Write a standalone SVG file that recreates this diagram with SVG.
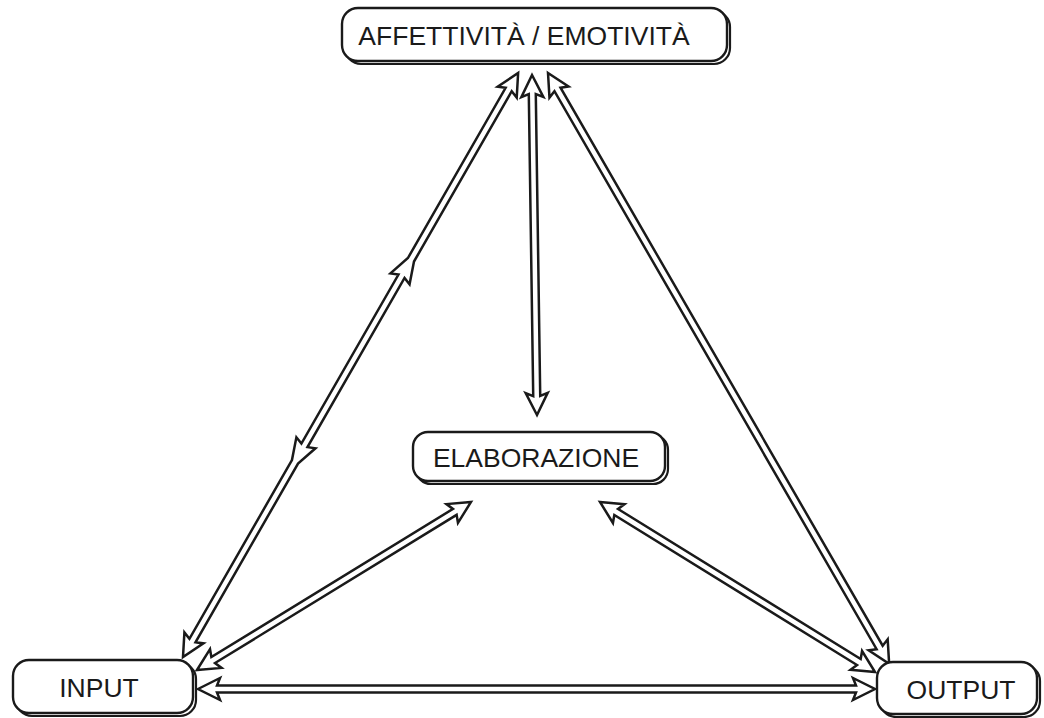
<svg xmlns="http://www.w3.org/2000/svg" width="1044" height="718" viewBox="0 0 1044 718">
<style>
.bg{fill:#ffffff}
.shadow{fill:#ffffff;stroke:#1a1a1a;stroke-width:2.2}
.box{fill:#ffffff;stroke:#1a1a1a;stroke-width:2.4}
.lbl{font-family:"Liberation Sans",Arial,sans-serif;font-size:26.5px;fill:#1a1a1a;text-anchor:middle}
.arrow{fill:#ffffff;stroke:#1a1a1a;stroke-width:2.5;stroke-linejoin:miter}
</style>
<rect class="bg" x="0" y="0" width="1044" height="718"/>
<g id="connectors">
  <g transform="translate(183,657) rotate(-60.15)">
    <polygon class="arrow" points="0,0 22,-11 19,-3.5 225,-3.5 247,-11 244,-3.5 439,-3.5 436,-11 458,-3.5 654.3,-3.5 651.3,-11 673.3,0 651.3,11 654.3,3.5 458,3.5 436,11 439,3.5 244,3.5 247,11 225,3.5 19,3.5 22,11"/>
  </g>
  <g transform="translate(537,415) rotate(-90.84)">
    <polygon class="arrow" points="0,0 22,-11 19,-3.5 321,-3.5 318,-11 340,0 318,11 321,3.5 19,3.5 22,11"/>
  </g>
  <g transform="translate(548,73) rotate(60.0)">
    <polygon class="arrow" points="0,0 22,-11 19,-3.5 663.3,-3.5 660.3,-11 682.3,0 660.3,11 663.3,3.5 19,3.5 22,11"/>
  </g>
  <g transform="translate(600,502) rotate(31.72)">
    <polygon class="arrow" points="0,0 22,-11 19,-3.5 304.3,-3.5 301.3,-11 323.3,0 301.3,11 304.3,3.5 19,3.5 22,11"/>
  </g>
  <g transform="translate(197,670) rotate(-31.52)">
    <polygon class="arrow" points="0,0 22,-11 19,-3.5 302.4,-3.5 299.4,-11 321.4,0 299.4,11 302.4,3.5 19,3.5 22,11"/>
  </g>
  <g transform="translate(198,689)">
    <polygon class="arrow" points="0,0 22,-11 19,-3.5 658,-3.5 655,-11 677,0 655,11 658,3.5 19,3.5 22,11"/>
  </g>
</g>
<g id="affettivita">
  <rect class="shadow" x="345" y="11" width="385" height="53" rx="16"/>
  <rect class="box" x="342" y="8" width="385" height="53" rx="16"/>
  <text class="lbl" x="524" y="45">AFFETTIVITÀ / EMOTIVITÀ</text>
</g>
<g id="elaborazione">
  <rect class="shadow" x="416" y="435" width="252" height="49" rx="15"/>
  <rect class="box" x="413" y="432" width="252" height="49" rx="15"/>
  <text class="lbl" x="536" y="467">ELABORAZIONE</text>
</g>
<g id="input">
  <rect class="shadow" x="16" y="663" width="180" height="53" rx="16"/>
  <rect class="box" x="13" y="660" width="180" height="53" rx="16"/>
  <text class="lbl" x="99" y="697">INPUT</text>
</g>
<g id="output">
  <rect class="shadow" x="880" y="665" width="160" height="52" rx="16"/>
  <rect class="box" x="877" y="662" width="160" height="52" rx="16"/>
  <text class="lbl" x="961" y="699">OUTPUT</text>
</g>
</svg>
